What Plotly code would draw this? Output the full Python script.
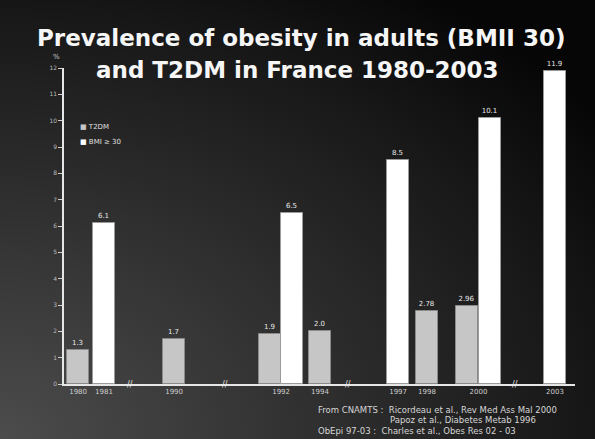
import base64
import plotly.graph_objects as go

# ---- data -------------------------------------------------------------
t2dm_years = ["1980", "1990", "1992", "1994", "1998", "2000"]
t2dm_values = [1.3, 1.7, 1.9, 2.0, 2.78, 2.96]

obesity_years = ["1981", "1992", "1997", "2000", "2003"]
obesity_values = [6.1, 6.5, 8.5, 10.1, 11.9]

y_ticks = list(range(0, 13))

# ---- layout helpers ---------------------------------------------------
W, H = 595, 439
M_L, M_R, M_T, M_B = 64, 20, 68, 55
PW, PH = W - M_L - M_R, H - M_T - M_B

# slot position of each bar along the (broken) time axis
T2DM_SLOT = {"1980": 0.55, "1990": 4.30, "1992": 8.05, "1994": 10.0,
             "1998": 14.18, "2000": 15.74}
OBES_SLOT = {"1981": 1.56, "1992": 8.91, "1997": 13.05, "2000": 16.64,
             "2003": 19.18}
X_RANGE = [0, PW / 25.6]
BAR_W = 0.88

T2DM_COLOR = "#c6c6c6"
OBES_COLOR = "#ffffff"


def px_x(px):
    return (px - M_L) / PW


def px_y(py):
    return 1 - (py - M_T) / PH


# tick positions: one label per year, centred under its bar(s)
label_pos = {}
for d in (T2DM_SLOT, OBES_SLOT):
    for k, v in d.items():
        label_pos.setdefault(k, []).append(v)
tick_years = sorted(label_pos)
tick_vals = [sum(label_pos[k]) / len(label_pos[k]) for k in tick_years]

# break marks between the separated groups of years
break_marks = [2.58, 6.29, 11.09, 17.62]

# background: dark slide gradient
svg = f"""<svg xmlns='http://www.w3.org/2000/svg' width='{W}' height='{H}'>
<defs><radialGradient id='g' cx='0' cy='1' r='1.25'>
<stop offset='0' stop-color='#4c4c4c'/>
<stop offset='0.45' stop-color='#2e2e2e'/>
<stop offset='0.8' stop-color='#161616'/>
<stop offset='1' stop-color='#060606'/>
</radialGradient></defs>
<rect width='{W}' height='{H}' fill='url(#g)'/></svg>"""
bg_src = "data:image/svg+xml;base64," + base64.b64encode(svg.encode()).decode()

fig = go.Figure()

fig.add_trace(go.Bar(
    name="T2DM",
    x=[T2DM_SLOT[y] for y in t2dm_years],
    y=t2dm_values,
    width=BAR_W,
    marker=dict(color=T2DM_COLOR, line=dict(color="#8a8a8a", width=1)),
    text=[str(v) for v in t2dm_values],
    textposition="outside",
    textfont=dict(size=7, color="#e8e8e8", family="DejaVu Sans"),
    cliponaxis=False,
))
fig.add_trace(go.Bar(
    name="BMI ≥ 30",
    x=[OBES_SLOT[y] for y in obesity_years],
    y=obesity_values,
    width=BAR_W,
    marker=dict(color=OBES_COLOR, line=dict(color="#9a9a9a", width=1)),
    text=[str(v) for v in obesity_values],
    textposition="outside",
    textfont=dict(size=7, color="#e8e8e8", family="DejaVu Sans"),
    cliponaxis=False,
))

foot_font = dict(size=8.5, color="#d6d6d6", family="DejaVu Sans")
title_font = dict(size=23, color="#f6f6f6", family="DejaVu Sans")
legend_font = dict(size=7, color="#e0e0e0", family="DejaVu Sans")
annotations = [
    dict(text="<b>Prevalence of obesity in adults (BMII 30)</b>", x=px_x(301), y=px_y(38),
         xref="paper", yref="paper", showarrow=False, xanchor="center", yanchor="middle",
         font=title_font),
    dict(text="<b>and T2DM in France 1980-2003</b>", x=px_x(297), y=px_y(70),
         xref="paper", yref="paper", showarrow=False, xanchor="center", yanchor="middle",
         font=title_font),
    dict(text="%", x=px_x(51), y=px_y(51), xref="paper", yref="paper",
         showarrow=False, font=dict(size=7, color="#cccccc", family="DejaVu Sans")),
    # legend keys
    dict(text=f"<span style='color:{T2DM_COLOR}'>■</span> T2DM",
         x=px_x(78), y=px_y(127), xref="paper", yref="paper", showarrow=False,
         xanchor="left", yanchor="middle", font=legend_font),
    dict(text=f"<span style='color:{OBES_COLOR}'>■</span> BMI ≥ 30",
         x=px_x(78), y=px_y(142), xref="paper", yref="paper", showarrow=False,
         xanchor="left", yanchor="middle", font=legend_font),
    # sources
    dict(text="From CNAMTS :  Ricordeau et al., Rev Med Ass Mal 2000",
         x=px_x(316), y=px_y(410), xref="paper", yref="paper", showarrow=False,
         xanchor="left", yanchor="middle", font=foot_font),
    dict(text="Papoz et al., Diabetes Metab 1996",
         x=px_x(388), y=px_y(420), xref="paper", yref="paper", showarrow=False,
         xanchor="left", yanchor="middle", font=foot_font),
    dict(text="ObEpi 97-03 :  Charles et al., Obes Res 02 - 03",
         x=px_x(316), y=px_y(431), xref="paper", yref="paper", showarrow=False,
         xanchor="left", yanchor="middle", font=foot_font),
]
for bx in break_marks:
    annotations.append(dict(text="//", x=bx, y=0, xref="x", yref="y", showarrow=False,
                            yanchor="middle", xanchor="center",
                            font=dict(size=8, color="#e6e6e6", family="DejaVu Sans")))

fig.update_layout(
    width=W, height=H,
    margin=dict(l=M_L, r=M_R, t=M_T, b=M_B, pad=0),
    paper_bgcolor="#111111",
    plot_bgcolor="rgba(0,0,0,0)",
    barmode="overlay",
    bargap=0,
    showlegend=False,
    images=[dict(source=bg_src, xref="paper", yref="paper",
                 x=-M_L / PW, y=1 + M_T / PH, sizex=W / PW, sizey=H / PH,
                 xanchor="left", yanchor="top", sizing="stretch", layer="below")],
    annotations=annotations,
    xaxis=dict(range=X_RANGE, showgrid=False, zeroline=False, showline=True,
               linecolor="#e6e6e6", linewidth=1.5,
               tickmode="array", tickvals=tick_vals, ticktext=tick_years,
               ticks="", tickfont=dict(size=7, color="#cfcfcf", family="DejaVu Sans")),
    yaxis=dict(range=[0, 12], showgrid=False, zeroline=False, showline=True,
               linecolor="#e6e6e6", linewidth=1.5,
               tickmode="array", tickvals=y_ticks, ticks="outside", ticklen=4,
               tickcolor="#cfcfcf", tickwidth=1,
               tickfont=dict(size=6, color="#bdbdbd", family="DejaVu Sans")),
    font=dict(family="DejaVu Sans"),
)

fig.write_html("out.html")
